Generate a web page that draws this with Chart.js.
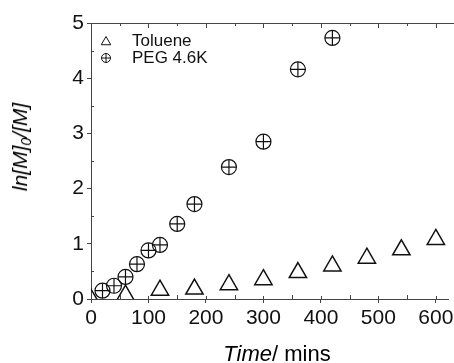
<!DOCTYPE html>
<html>
<head>
<meta charset="utf-8">
<script src="https://cdn.jsdelivr.net/npm/chart.js@4/dist/chart.umd.min.js"></script>
<style>
  html, body { margin: 0; padding: 0; background: #fff; overflow: hidden; }
  #wrap { position: relative; width: 454px; height: 363px; overflow: hidden; }
  #box { position: absolute; left: 0; top: 0; width: 460px; height: 363px; }
  .ttl { position: absolute; font-family: "Liberation Sans", Arial, sans-serif; color: #000; white-space: nowrap; line-height: 22px; }
  #xTitle { left: 277px; top: 343px; font-size: 22px; transform: translateX(-50%); }
  #yTitle { left: 23px; top: 147px; font-size: 21px; font-style: italic; transform: translate(-50%, -50%) rotate(-90deg); }
  #yTitle sub { font-size: 14px; vertical-align: -4px; }
</style>
</head>
<body>
<div id="wrap">
  <div id="box"><canvas id="mainChart"></canvas></div>
  <div class="ttl" id="xTitle"><i>Time</i>/ mins</div>
  <div class="ttl" id="yTitle">ln[M]<sub>0</sub>/[M]</div>
</div>
<script>
// ── data ──
const seriesNames = ['Toluene', 'PEG 4.6K'];

const tolueneTime = [0, 60, 120, 180, 240, 300, 360, 420, 480, 540, 600];
const tolueneLn   = [0.0, 0.07, 0.16, 0.18, 0.26, 0.35, 0.48, 0.60, 0.74, 0.89, 1.08];

const pegTime = [20, 40, 60, 80, 100, 120, 150, 180, 240, 300, 360, 420];
const pegLn   = [0.15, 0.24, 0.40, 0.63, 0.88, 0.98, 1.36, 1.72, 2.39, 2.85, 4.16, 4.73];

const xLabels = [0, 100, 200, 300, 400, 500, 600];
const yLabels = [0, 1, 2, 3, 4, 5];

const INK = '#111';
const AXIS = '#444';
const FONT = '"Liberation Sans", Arial, sans-serif';

// crosses inside the PEG circles, inward ticks, top frame line, legend
const extras = {
  id: 'extras',
  afterDatasetsDraw(chart) {
    const { ctx, chartArea: a } = chart;
    const meta = chart.getDatasetMeta(1);
    ctx.save();
    ctx.beginPath();
    ctx.rect(a.left, a.top, a.right - a.left, a.bottom - a.top);
    ctx.clip();
    ctx.strokeStyle = INK;
    ctx.lineWidth = 1.2;
    meta.data.forEach(p => {
      const r = 7.5;
      ctx.beginPath();
      ctx.moveTo(p.x - r, p.y); ctx.lineTo(p.x + r, p.y);
      ctx.moveTo(p.x, p.y - r); ctx.lineTo(p.x, p.y + r);
      ctx.stroke();
    });
    ctx.restore();
  },
  afterDraw(chart) {
    const { ctx, chartArea: a, scales } = chart;
    ctx.save();
    ctx.strokeStyle = AXIS;
    ctx.lineWidth = 1;
    ctx.beginPath();
    ctx.moveTo(a.left, a.top + 0.5);
    ctx.lineTo(chart.width, a.top + 0.5);
    for (let v = 0; v <= 600; v += 50) {
      const px = Math.round(scales.x.getPixelForValue(v)) + 0.5;
      const major = v % 100 === 0;
      ctx.moveTo(px, a.top);
      ctx.lineTo(px, a.top + (major ? 5 : 3));
      ctx.moveTo(px, a.bottom);
      ctx.lineTo(px, a.bottom - (major ? 3 : 4));
    }
    for (let v = 0.5; v < 5; v += 1) {
      const py = Math.round(scales.y.getPixelForValue(v)) + 0.5;
      ctx.moveTo(a.left, py);
      ctx.lineTo(a.left + 3, py);
    }
    ctx.stroke();

    // legend
    const lx = 106, ly = [41, 58];
    ctx.fillStyle = 'rgba(0,0,0,0)';
    ctx.strokeStyle = INK;
    ctx.lineWidth = 1;
    Chart.helpers.drawPoint(ctx, { pointStyle: 'triangle', radius: 5.5, rotation: 0, borderWidth: 1 }, lx, ly[0] + 1);
    Chart.helpers.drawPoint(ctx, { pointStyle: 'circle', radius: 4.5, rotation: 0, borderWidth: 1 }, lx, ly[1]);
    ctx.beginPath();
    ctx.moveTo(lx - 4.5, ly[1]); ctx.lineTo(lx + 4.5, ly[1]);
    ctx.moveTo(lx, ly[1] - 4.5); ctx.lineTo(lx, ly[1] + 4.5);
    ctx.stroke();
    ctx.fillStyle = INK;
    ctx.font = '17px ' + FONT;
    ctx.textBaseline = 'middle';
    ctx.textAlign = 'left';
    seriesNames.forEach((n, i) => ctx.fillText(n, 132, ly[i]));
    ctx.restore();
  }
};

const toPoints = (xs, ys) => xs.map((x, i) => ({ x, y: ys[i] }));

new Chart(document.getElementById('mainChart'), {
  type: 'scatter',
  data: {
    datasets: [
      {
        label: seriesNames[0],
        data: toPoints(tolueneTime, tolueneLn),
        pointStyle: 'triangle',
        pointRadius: 10,
        pointBorderWidth: 1.5,
        borderColor: INK,
        backgroundColor: 'rgba(0,0,0,0)',
        clip: 0,
      },
      {
        label: seriesNames[1],
        data: toPoints(pegTime, pegLn),
        pointStyle: 'circle',
        pointRadius: 7.5,
        pointBorderWidth: 1.2,
        borderColor: INK,
        backgroundColor: 'rgba(0,0,0,0)',
        clip: 0,
      },
    ],
  },
  options: {
    responsive: true,
    maintainAspectRatio: false,
    animation: false,
    layout: { padding: { top: 23, left: 0, right: 0, bottom: 0 } },
    plugins: { legend: { display: false }, tooltip: { enabled: false } },
    scales: {
      x: {
        type: 'linear',
        min: 0,
        max: 622,
        afterBuildTicks: s => { s.ticks = xLabels.map(v => ({ value: v })); },
        afterFit: s => { s.height = 64; },
        grid: { drawOnChartArea: false, tickLength: 4, tickColor: AXIS },
        border: { color: AXIS, width: 1 },
        ticks: { color: INK, font: { family: FONT, size: 21 }, padding: 3, maxRotation: 0 },
      },
      y: {
        min: 0,
        max: 5,
        afterBuildTicks: s => { s.ticks = yLabels.map(v => ({ value: v })); },
        afterFit: s => { s.width = 91; },
        grid: { drawOnChartArea: false, tickLength: 4, tickColor: AXIS },
        border: { color: AXIS, width: 1 },
        ticks: { color: INK, font: { family: FONT, size: 21 }, padding: 3 },
      },
    },
  },
  plugins: [extras],
});
</script>
</body>
</html>
